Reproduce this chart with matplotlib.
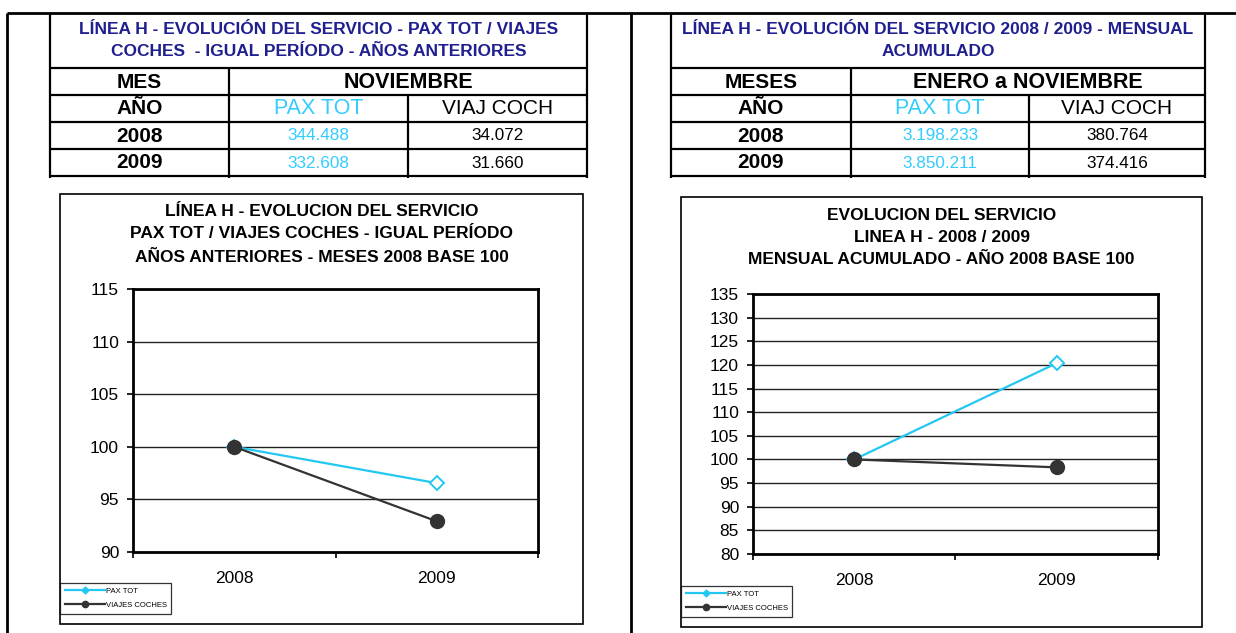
import matplotlib
matplotlib.use("Agg")
import matplotlib.pyplot as plt
from matplotlib.lines import Line2D

plt.rcParams['font.family'] = ['Liberation Sans', 'DejaVu Sans']

W, H = 1236, 633

anios = ['2008', '2009']
pax_nov = ['344.488', '332.608']
viaj_nov = ['34.072', '31.660']
pax_acum = ['3.198.233', '3.850.211']
viaj_acum = ['380.764', '374.416']

# indices base 100 de los graficos
pax_idx_nov = [100, 96.55]
viaj_idx_nov = [100, 92.92]
pax_idx_acum = [100, 120.38]
viaj_idx_acum = [100, 98.33]

CIAN = '#22C8F2'
OSCURO = '#333333'
NAVY = '#1F1F8F'

fig = plt.figure(figsize=(W / 100, H / 100), dpi=100)
fondo = fig.add_axes([0, 0, 1, 1])
fondo.set_xlim(0, W)
fondo.set_ylim(H, 0)
fondo.axis('off')


def linea(x0, y0, x1, y1, lw=1.6):
    fondo.plot([x0, x1], [y0, y1], color='black', lw=lw, solid_capstyle='butt')


def texto(x, y, s, size, color='black', bold=False):
    fondo.text(x, y, s, fontsize=size, color=color, ha='center', va='center',
               fontweight='bold' if bold else 'normal')


# marco general
linea(7, 13, W, 13, 2)
linea(7, 13, 7, H, 2)
linea(631, 13, 631, H, 2)


def tabla(x0, c1, c2, x1, titulo, mes, periodo, pax, viaj):
    rows = [68, 95, 122, 149, 176]
    linea(x0, 13, x0, 178)
    linea(x1, 13, x1, 178)
    for y in rows:
        linea(x0, y, x1, y)
    linea(c1, 68, c1, 178)
    linea(c2, 95, c2, 178)
    cx = (x0 + x1) / 2
    texto(cx, 30, titulo[0], 12.5, NAVY, True)
    texto(cx, 52, titulo[1], 12.5, NAVY, True)
    m1, m2, m3 = (x0 + c1) / 2, (c1 + c2) / 2, (c2 + x1) / 2
    texto(m1, 82, mes, 15, bold=True)
    texto((c1 + x1) / 2, 82, periodo, 15.5, bold=True)
    texto(m1, 109, 'AÑO', 15, bold=True)
    texto(m2, 109, 'PAX TOT', 15.5, '#33CCFF')
    texto(m3, 109, 'VIAJ COCH', 15)
    for i, a in enumerate(anios):
        y = 136 + 27 * i
        texto(m1, y, a, 15, bold=True)
        texto(m2, y, pax[i], 12.3, '#33CCFF')
        texto(m3, y, viaj[i], 12.3)


tabla(50, 229, 408, 587,
      ['LÍNEA H - EVOLUCIÓN DEL SERVICIO - PAX TOT / VIAJES',
       'COCHES  - IGUAL PERÍODO - AÑOS ANTERIORES'],
      'MES', 'NOVIEMBRE', pax_nov, viaj_nov)
tabla(671, 851, 1029, 1205,
      ['LÍNEA H - EVOLUCIÓN DEL SERVICIO 2008 / 2009 - MENSUAL',
       'ACUMULADO'],
      'MESES', 'ENERO a NOVIEMBRE', pax_acum, viaj_acum)


def grafico(caja, area, titulos, ylim, pax, viaj):
    bx0, by0, bx1, by1 = caja
    fondo.add_patch(plt.Rectangle((bx0, by0), bx1 - bx0, by1 - by0,
                                  fill=False, ec='black', lw=1.2))
    cx = (bx0 + bx1) / 2
    for t, y in zip(titulos, [by0 + 18, by0 + 40, by0 + 63]):
        texto(cx, y, t, 12.5, bold=True)

    x0, y0, x1, y1 = area
    ax = fig.add_axes([x0 / W, 1 - y1 / H, (x1 - x0) / W, (y1 - y0) / H])
    ax.plot(anios, pax, color=CIAN, lw=1.6, marker='D', ms=7,
            mfc='white', mec=CIAN, mew=1.4, zorder=3)
    ax.plot(anios, viaj, color=OSCURO, lw=1.6, marker='o', ms=10,
            mfc=OSCURO, mec=OSCURO, zorder=4)
    ax.set_xlim(-0.5, 1.5)
    ax.set_ylim(*ylim)
    ax.set_yticks(range(ylim[0], ylim[1] + 1, 5))
    ax.set_xticks([-0.5, 0.5, 1.5], minor=True)
    ax.tick_params(axis='x', which='major', length=0, pad=14, labelsize=12.5)
    ax.tick_params(axis='x', which='minor', length=4, width=1.2)
    ax.tick_params(axis='y', length=4, width=1.2, pad=6, labelsize=12.5)
    ax.grid(axis='y', color='#222222', lw=1)
    for s in ax.spines.values():
        s.set_linewidth(2)
    ax.set_axisbelow(True)

    handles = [Line2D([], [], color=CIAN, lw=1.6, marker='D', ms=3.5),
               Line2D([], [], color=OSCURO, lw=1.6, marker='o', ms=4.5)]
    leg = fig.legend(handles, ['PAX TOT', 'VIAJES COCHES'], loc='upper left',
                     bbox_to_anchor=(bx0 / W, 1 - (by1 - 41) / H),
                     fontsize=5.5, frameon=True, fancybox=False,
                     edgecolor='black', borderpad=0.6, handlelength=5.3,
                     handletextpad=0.1, labelspacing=0.9, borderaxespad=0)
    leg.get_frame().set_linewidth(0.9)


grafico((60, 194, 583, 624), (133, 289, 538, 552),
        ['LÍNEA H - EVOLUCION DEL SERVICIO',
         'PAX TOT / VIAJES COCHES - IGUAL PERÍODO',
         'AÑOS ANTERIORES - MESES 2008 BASE 100'],
        (90, 115), pax_idx_nov, viaj_idx_nov)
grafico((681, 197, 1202, 627), (753, 294, 1158, 554),
        ['EVOLUCION DEL SERVICIO',
         'LINEA H - 2008 / 2009',
         'MENSUAL ACUMULADO - AÑO 2008 BASE 100'],
        (80, 135), pax_idx_acum, viaj_idx_acum)

fig.savefig('out.png', dpi=100)
